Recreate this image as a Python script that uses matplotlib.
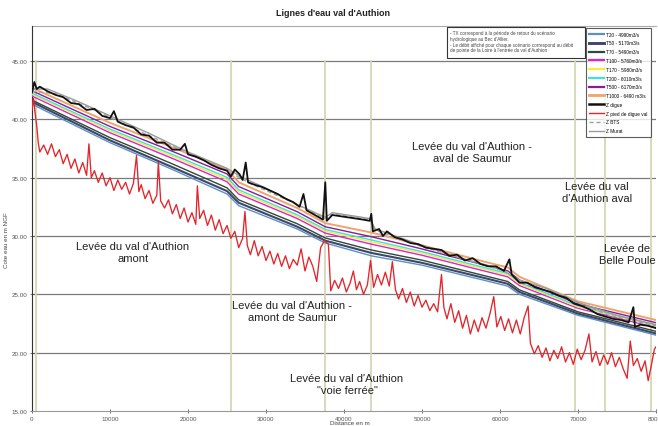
import matplotlib
matplotlib.use("Agg")
import matplotlib.pyplot as plt
from matplotlib.lines import Line2D
from matplotlib.patches import Rectangle

plt.rcParams['font.family'] = ['Liberation Sans', 'DejaVu Sans']

# ---- data ----
wl_x = [0, 3000, 10000, 18000, 25000, 26500, 34000, 37600, 43500, 50000, 58000, 61000, 62500, 70000, 80000]
t20 = [41.3, 40.3, 38.0, 35.7, 33.6, 32.6, 30.6, 29.4, 28.3, 27.5, 26.2, 25.7, 25.0, 23.2, 21.5]
t50 = [41.5, 40.5, 38.2, 35.9, 33.85, 32.85, 30.8, 29.6, 28.55, 27.7, 26.4, 25.9, 25.2, 23.35, 21.65]
t70 = [41.65, 40.68, 38.43, 36.18, 34.13, 33.1, 31.05, 29.83, 28.8, 27.93, 26.6, 26.1, 25.38, 23.5, 21.83]
t100 = [42.0, 41.05, 38.85, 36.65, 34.65, 33.6, 31.5, 30.25, 29.3, 28.35, 27.0, 26.5, 25.75, 23.8, 22.15]
t170 = [42.14, 41.2, 39.02, 36.84, 34.86, 33.8, 31.68, 30.42, 29.5, 28.52, 27.16, 26.66, 25.9, 23.92, 22.28]
t200 = [42.25, 41.32, 39.16, 36.99, 35.03, 33.96, 31.82, 30.56, 29.66, 28.66, 27.29, 26.79, 26.02, 24.02, 22.38]
t500 = [42.45, 41.53, 39.39, 37.26, 35.32, 34.24, 32.08, 30.79, 29.94, 28.89, 27.51, 27.01, 26.23, 24.18, 22.57]
t1000 = [42.7, 41.8, 39.7, 37.6, 35.7, 34.6, 32.4, 31.1, 30.3, 29.2, 27.8, 27.3, 26.5, 24.4, 22.8]

digue_x = [0, 300, 600, 1000, 2000, 3000, 4000, 5000, 6000, 7000, 8000, 9000, 10000, 10500, 11000,
           12000, 13000, 14000, 15000, 16000, 17000, 18000, 19000, 19600, 20000, 21000, 22000, 23000,
           24000, 25000, 25500, 26000, 26600, 27000, 27400, 27700, 28500, 29500, 30500, 31500, 32500,
           33500, 34300, 34800, 35200, 36000, 36800, 37300, 37600, 37800, 38500, 39500, 40500, 41500,
           42500, 43300, 43500, 43700, 44500, 45000, 45500, 46500, 47500, 48500, 49500, 50500, 51500,
           52500, 53500, 54500, 55500, 56500, 57500, 58500, 59500, 60500, 61200, 61500, 62500, 63500,
           64500, 65500, 66500, 67500, 68500, 69500, 70500, 71500, 72500, 73500, 74500, 75500, 76500,
           77100, 77300, 78000, 79000, 80000]
digue_y = [42.3, 43.2, 42.6, 42.8, 42.4, 42.1, 41.9, 41.4, 41.3, 40.8, 40.9, 40.3, 40.1, 40.7, 39.8,
           39.5, 39.3, 38.7, 38.6, 38.0, 38.0, 37.4, 37.4, 37.9, 37.0, 36.8, 36.5, 36.1,
           35.8, 35.6, 35.1, 35.7, 35.3, 34.8, 36.3, 34.6, 34.4, 34.2, 33.9, 33.6, 33.2,
           32.9, 32.5, 33.6, 32.2, 31.9, 31.6, 31.4, 34.6, 31.3, 31.8, 31.7, 31.6, 31.5,
           31.4, 31.3, 31.9, 30.4, 30.6, 30.0, 30.4, 29.9, 29.7, 29.4, 29.3, 29.0, 28.9,
           28.8, 28.3, 28.4, 27.9, 28.1, 27.6, 27.4, 27.4, 27.0, 28.0, 26.7, 26.0, 26.0,
           25.6, 25.4, 25.2, 24.9, 24.7, 24.2, 24.0, 23.7, 23.3, 23.1, 22.9, 22.8, 22.6,
           23.9, 22.2, 22.4, 22.3, 22.1]

murat_x = [0, 2000, 6000, 10000, 15000, 20000, 25000, 27000, 30000, 34000, 37600, 38500, 43300,
           44000, 50000, 55000, 60000, 62500, 66000, 70000, 75000, 80000]
murat_y = [42.6, 42.6, 41.5, 40.3, 38.8, 37.2, 35.8, 35.0, 34.1, 32.7, 31.6, 32.0, 31.5,
           30.6, 29.2, 28.1, 27.2, 26.2, 25.5, 24.3, 23.2, 22.4]

bts_x = [0, 3000, 8000, 14000, 20000, 25000, 28000, 33000, 37600, 38500, 43300, 44000, 50000,
         56000, 61000, 63000, 68000, 74000, 80000]
bts_y = [42.4, 42.2, 40.8, 38.9, 37.1, 35.6, 34.5, 33.0, 31.5, 31.9, 31.4, 30.5, 29.1,
         27.9, 26.9, 25.9, 24.8, 23.2, 22.3]

pied_x = [0, 200, 400, 600, 800, 1000, 1500, 2000, 2500, 3000, 3500, 4000, 4500, 5000, 5500, 6000,
          6500, 7000, 7300, 7600, 8000, 8500, 9000, 9500, 10000, 10500, 11000, 11500, 12000, 12500,
          13000, 13400, 13700, 14000, 14500, 15000, 15500, 16000, 16200, 16500, 17000, 17500, 18000,
          18500, 19000, 19500, 20000, 20500, 21000, 21200, 21500, 22000, 22500, 23000, 23500, 24000,
          24500, 25000, 25500, 26000, 26500, 27000, 27300, 27600, 28000, 28500, 29000, 29500, 30000,
          30500, 31000, 31500, 32000, 32500, 33000, 33500, 34000, 34500, 35000, 35500, 36000, 36500,
          37000, 37500, 38000, 38300, 38800, 39300, 39800, 40300, 40800, 41200, 41600, 42000, 42500,
          43000, 43400, 43800, 44300, 44800, 45300, 45800, 46200, 46600, 47000, 47500, 48000, 48500,
          49000, 49500, 50000, 50500, 51000, 51500, 52000, 52500, 52800, 53200, 53700, 54200, 54700,
          55200, 55700, 56200, 56700, 57200, 57700, 58200, 58700, 59200, 59600, 60100, 60600, 61100,
          61600, 62100, 62600, 63100, 63600, 63900, 64400, 64900, 65400, 65900, 66400, 66900, 67400,
          67900, 68400, 68900, 69400, 69900, 70400, 70900, 71400, 71800, 72300, 72800, 73300, 73800,
          74300, 74800, 75300, 75800, 76300, 76700, 77100, 77600, 78100, 78600, 79000, 79400, 79800,
          80000]
pied_y = [40.8, 41.8, 40.5, 39.5, 38.0, 37.2, 37.8, 37.0, 37.9, 36.8, 37.4, 36.2, 37.0, 35.8, 36.6, 35.4,
          36.3, 35.2, 37.9, 35.0, 35.6, 34.6, 35.4, 34.3, 35.0, 33.9, 34.8, 34.0, 34.6, 33.6,
          34.5, 36.9, 33.8, 34.4, 33.2, 33.9, 32.8, 33.5, 36.3, 33.0, 32.4, 33.1, 31.9,
          32.7, 31.5, 32.4, 31.2, 32.0, 31.0, 34.3, 31.5, 32.2, 30.9, 31.8, 30.5, 31.4,
          30.2, 30.9, 29.8, 30.4, 29.0, 29.8, 32.1, 29.2, 28.4, 29.6, 28.3, 29.1, 27.9,
          28.7, 27.6, 28.5, 27.4, 28.3, 27.2, 28.0, 27.5, 28.9, 27.0, 28.2, 27.4, 26.1,
          29.0, 29.6, 29.3, 25.3, 26.2, 25.5, 26.4, 25.2, 26.0, 27.0, 25.4, 26.1, 25.0,
          25.8, 27.9, 25.6, 26.7, 25.8, 26.9, 25.7, 27.8, 25.4, 24.6, 25.5, 24.3, 25.2,
          24.0, 24.9, 23.9, 24.5, 23.6, 24.2, 23.5, 26.7, 23.9, 22.9, 24.2, 22.6, 23.6,
          22.1, 23.2, 21.6, 22.8, 21.8, 23.0, 22.1, 23.3, 24.8, 22.2, 23.1, 21.9, 22.9,
          21.7, 22.8, 21.6, 23.0, 24.0, 20.8, 19.9, 20.6, 19.6, 20.4, 19.3, 20.2, 19.5,
          20.5, 19.2, 20.0, 19.0, 20.3, 19.4, 20.2, 21.6, 19.2, 20.1, 18.9, 19.8, 19.0,
          20.0, 18.8, 19.6, 18.6, 17.8, 21.0, 18.9, 19.5, 18.4, 19.3, 17.6, 18.9, 20.3,
          20.5]

limits_x = [500, 25500, 37600, 43500, 69600, 73400, 79400]

series = [
    ("T20 - 4990m3/s", t20, "#5b8fc7", 1.0),
    ("T50 - 5170m3/s", t50, "#3f4668", 1.5),
    ("T70 - 5490m3/s", t70, "#2d4a3a", 1.0),
    ("T100 - 5760m3/s", t100, "#e020d8", 1.0),
    ("T170 - 5980m3/s", t170, "#f2ee3a", 1.0),
    ("T200 - 6010m3/s", t200, "#3fe0e0", 1.0),
    ("T500 - 6170m3/s", t500, "#8a1c9a", 1.0),
    ("T1000 - 6490 m3/s", t1000, "#eda56a", 1.4),
]

fig = plt.figure(figsize=(6.58, 4.27), dpi=100)
ax = fig.add_axes([32/658, 1-412/427, (656-32)/658, (412-27)/427])

ax.set_xlim(0, 80000)
ax.set_ylim(15, 48)
for yv in [20, 25, 30, 35, 40, 45]:
    ax.axhline(yv, color="#7a7a7a", lw=0.9, zorder=1)
for xv in limits_x:
    ax.plot([xv, xv], [15, 45], color="#d6d6b4", lw=1.3, zorder=1.5)

handles = []
for name, vals, col, lw in series:
    ax.plot(wl_x, vals, color=col, lw=lw, zorder=3)
    handles.append(Line2D([], [], color=col, lw=lw + 0.6, label=name))

ax.plot(murat_x, murat_y, color="#9a9a9a", lw=1.0, zorder=4)
ax.plot(bts_x, bts_y, color="#a0a0a0", lw=1.0, ls=(0, (3, 2)), zorder=4)
ax.plot(digue_x, digue_y, color="#111111", lw=1.3, zorder=5)
ax.plot(pied_x, pied_y, color="#e3242b", lw=0.95, zorder=5)

handles.append(Line2D([], [], color="#111111", lw=1.8, label="Z digue"))
handles.append(Line2D([], [], color="#e3242b", lw=1.0, label="Z pied de digue val"))
handles.append(Line2D([], [], color="#a0a0a0", lw=1.0, ls=(0, (3, 2)), label="Z BTS"))
handles.append(Line2D([], [], color="#9a9a9a", lw=1.0, label="Z Murat"))

leg = ax.legend(handles=handles, loc="upper right", bbox_to_anchor=(653/658, 1-27/427),
                bbox_transform=fig.transFigure, fontsize=3.4, frameon=True, fancybox=False,
                edgecolor="#333333", handlelength=3.0, labelspacing=0.8, borderpad=0.7,
                handletextpad=0.5)
leg.get_frame().set_linewidth(0.8)
leg.set_zorder(10)

ax.set_xticks([0, 10000, 20000, 30000, 40000, 50000, 60000, 70000, 80000])
ax.set_yticks([15, 20, 25, 30, 35, 40, 45])
ax.set_yticklabels(["%.2f" % v for v in [15, 20, 25, 30, 35, 40, 45]])
ax.tick_params(labelsize=4.5, colors="#555555", length=3, width=0.6, direction="inout", pad=2)
for s in ["top", "right"]:
    ax.spines[s].set_visible(False)
ax.plot([0, 80000], [48, 48], color="#aaaaaa", lw=0.8, clip_on=False, zorder=1)
ax.spines["left"].set_color("#333333")
ax.spines["bottom"].set_color("#999999")

fig.text(333/658, 1-14/427, "Lignes d'eau val d'Authion", ha="center", va="center",
         fontsize=6.5, fontweight="bold", color="#222222")
fig.text(7/658, 1-240/427, "Cote eau en m NGF", rotation=90, ha="center", va="center",
         fontsize=4.5, color="#444444")
fig.text(330/658, 1-424/427, "Distance en m", ha="left", va="center",
         fontsize=4.5, color="#444444")

fig.patches.append(Rectangle((447/658, 1-59/427), (585-447)/658, 31/427,
                             transform=fig.transFigure, fc="white", ec="#333333", lw=0.8,
                             zorder=8))
note = ("- TX correspond à la période de retour du scénario\nhydrologique au Bec d'Allier.\n"
        "- Le débit affiché pour chaque scénario correspond au débit\nde pointe de la Loire à l'entrée du val d'Authion")
fig.text(450/658, 1-31/427, note, ha="left", va="top", fontsize=3.3, color="#444444",
         linespacing=1.2, zorder=9)

labels = [
    (472, 153, "Levée du val d'Authion -\naval de Saumur"),
    (597, 193, "Levée du val\nd'Authion aval"),
    (627, 255, "Levée de\nBelle Poule"),
    (133, 253, "Levée du val d'Authion\namont"),
    (292, 312, "Levée du val d'Authion -\namont de Saumur"),
    (347, 385, "Levée du val d'Authion\n\"voie ferrée\""),
]
for px, py, t in labels:
    fig.text(px/658, 1-py/427, t, ha="center", va="center", fontsize=8, color="#222222",
             linespacing=1.15, zorder=20)

fig.savefig("out.png", dpi=100)
